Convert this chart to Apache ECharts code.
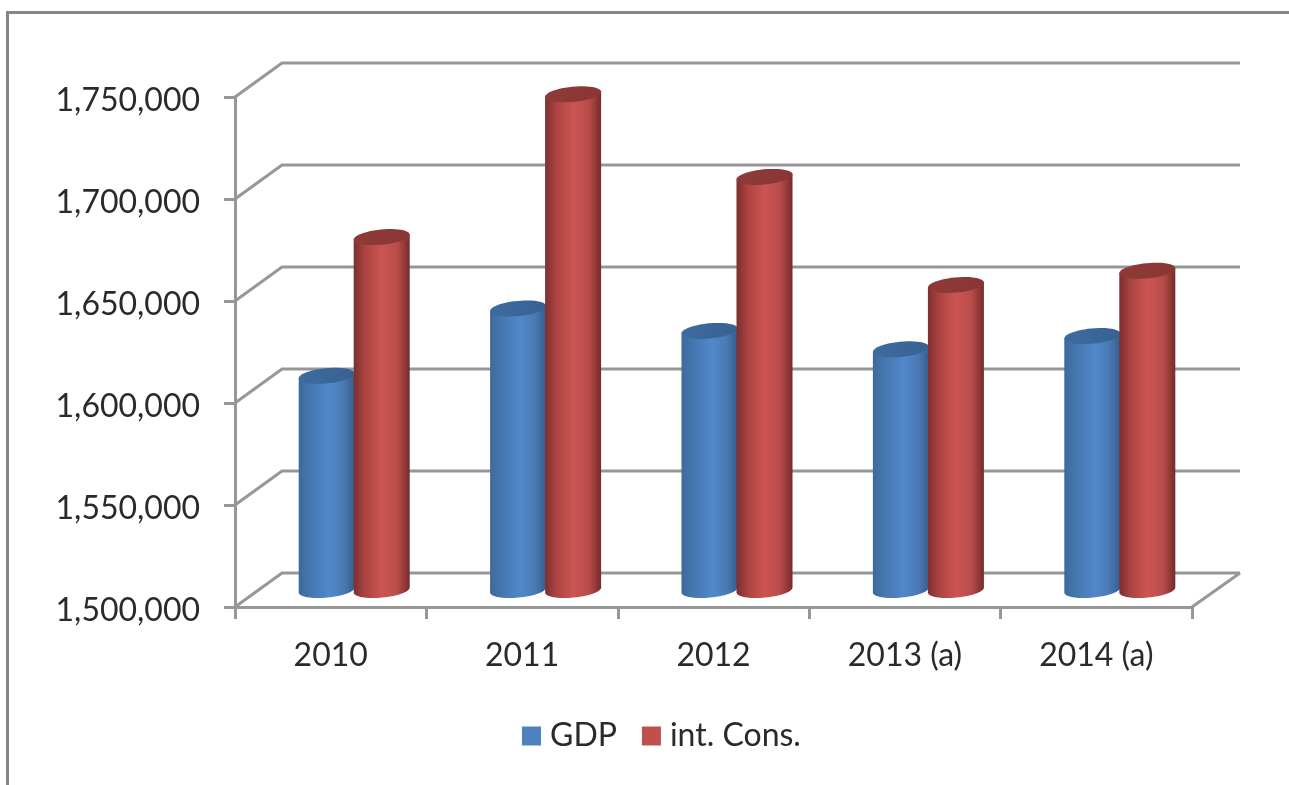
<!DOCTYPE html>
<html>
<head>
<meta charset="utf-8">
<style>
html,body{margin:0;padding:0;background:#fff;overflow:hidden}
#chart{width:1289px;height:785px;filter:blur(0.6px)}
</style>
<script src="https://cdn.jsdelivr.net/npm/echarts@6/dist/echarts.min.js"></script>
</head>
<body>
<div id="chart"></div>
<script>
const categories = ['2010', '2011', '2012', '2013 (a)', '2014 (a)'];
const gdp = [1605000, 1638000, 1627000, 1618000, 1624500];
const intCons = [1673000, 1743000, 1702500, 1649500, 1656500];
const yTicks = [1500000, 1550000, 1600000, 1650000, 1700000, 1750000];

const FONT = 'Lato, "Open Sans", sans-serif';
const TEXT = '#2a2a2a';
const LINE = '#979797';
// depth of the fake 3D box in pixels
const DEPTH_X = 47, DEPTH_Y = -34;

function cylinder(offsetRatio, sideStops, capStops) {
  return function (params, api) {
    const band = api.size([1, 0])[0];
    const top = api.coord([api.value(0), api.value(1)]);
    const base = api.coord([api.value(0), yTicks[0]]);
    const cx = top[0] + DEPTH_X / 2 + band * offsetRatio;
    const yTop = top[1] + DEPTH_Y / 2;
    const yBase = base[1] + DEPTH_Y / 2;
    const a = band * 0.147, b = 7.6, tilt = -5.5 * Math.PI / 180;
    const pt = (t, cy) => {
      const ex = a * Math.cos(t), ey = b * Math.sin(t);
      return [cx + ex * Math.cos(tilt) - ey * Math.sin(tilt),
              cy + ex * Math.sin(tilt) + ey * Math.cos(tilt)];
    };
    const body = [pt(Math.PI, yTop)];
    for (let i = 0; i <= 36; i++) body.push(pt(Math.PI - i * Math.PI / 36, yBase));
    body.push(pt(0, yTop));
    const cap = [];
    for (let i = 0; i < 48; i++) cap.push(pt(i * Math.PI / 24, yTop));
    return {
      type: 'group',
      children: [
        { type: 'polygon', shape: { points: body },
          style: { fill: new echarts.graphic.LinearGradient(0, 0, 1, 0, sideStops) } },
        { type: 'polygon', shape: { points: cap },
          style: { fill: new echarts.graphic.LinearGradient(0, 0, 1, 0, capStops) } }
      ]
    };
  };
}

function wall(params, api) {
  const p = api.coord([0, api.value(0)]);
  const cs = params.coordSys;
  const x0 = cs.x, x1 = cs.x + cs.width, y = p[1];
  const style = { fill: null, stroke: LINE, lineWidth: 3, lineJoin: 'miter' };
  const children = [{
    type: 'polyline',
    shape: { points: [[x0, y], [x0 + DEPTH_X, y + DEPTH_Y], [x1 + DEPTH_X + 1, y + DEPTH_Y]] },
    style
  }];
  if (params.dataIndex === 0) {
    children.push({
      type: 'polyline',
      shape: { points: [[x1 + DEPTH_X + 1, y + DEPTH_Y], [x1, y]] },
      style
    });
  }
  return { type: 'group', children };
}

const blueSide = [
  { offset: 0, color: '#3d6a9c' }, { offset: 0.2, color: '#4576af' },
  { offset: 0.55, color: '#5188cb' }, { offset: 0.8, color: '#4a7ab4' },
  { offset: 1, color: '#375e8e' }
];
const blueCap = [{ offset: 0, color: '#3e6b9f' }, { offset: 1, color: '#386193' }];
const redSide = [
  { offset: 0, color: '#7c2f2e' }, { offset: 0.2, color: '#ab4341' },
  { offset: 0.5, color: '#cc5552' }, { offset: 0.78, color: '#b84c4b' },
  { offset: 1, color: '#762b2b' }
];
const redCap = [{ offset: 0, color: '#8e3a39' }, { offset: 1, color: '#8a3635' }];

const chart = echarts.init(document.getElementById('chart'), null, { renderer: 'canvas' });
chart.setOption({
  animation: false,
  backgroundColor: '#ffffff',
  grid: { left: 235, top: 97, width: 957, height: 510, containLabel: false },
  legend: {
    left: 517, top: 715, itemWidth: 19, itemHeight: 19, itemGap: 25, icon: 'rect',
    data: [
      { name: 'GDP', itemStyle: { color: '#4f81bd' } },
      { name: 'int. Cons.', itemStyle: { color: '#c0504d' } }
    ],
    textStyle: { fontFamily: FONT, fontSize: 32, color: TEXT, padding: [0, 0, 3, 4] }
  },
  xAxis: {
    type: 'category', data: categories,
    axisLine: { lineStyle: { color: LINE, width: 3 } },
    axisTick: { show: true, alignWithLabel: false, length: 12, lineStyle: { color: LINE, width: 3 } },
    axisLabel: { fontFamily: FONT, fontSize: 32, color: TEXT, margin: 33 }
  },
  yAxis: {
    type: 'value', min: yTicks[0], max: yTicks[yTicks.length - 1], interval: 50000,
    axisLine: { show: true, lineStyle: { color: LINE, width: 3 } },
    axisTick: { show: true, length: 11, lineStyle: { color: LINE, width: 3 } },
    splitLine: { show: false },
    axisLabel: {
      fontFamily: FONT, fontSize: 32, color: TEXT, margin: 35,
      verticalAlign: 'top', lineHeight: 8,
      formatter: v => v.toLocaleString('en-US')
    }
  },
  graphic: [{
    type: 'polyline', silent: true,
    shape: { points: [[7.5, 785], [7.5, 12.5], [1289, 12.5]] },
    style: { fill: null, stroke: '#868686', lineWidth: 3 }
  }],
  series: [
    { type: 'custom', name: 'walls', renderItem: wall, z: 1, silent: true,
      data: yTicks.map(v => [v]), encode: { y: 0 } },
    { type: 'custom', name: 'GDP', z: 3, itemStyle: { color: '#4f81bd' },
      renderItem: cylinder(-0.1437, blueSide, blueCap),
      data: gdp.map((v, i) => [i, v]), encode: { x: 0, y: 1 } },
    { type: 'custom', name: 'int. Cons.', z: 4, itemStyle: { color: '#c0504d' },
      renderItem: cylinder(0.1437, redSide, redCap),
      data: intCons.map((v, i) => [i, v]), encode: { x: 0, y: 1 } }
  ]
});
</script>
</body>
</html>
